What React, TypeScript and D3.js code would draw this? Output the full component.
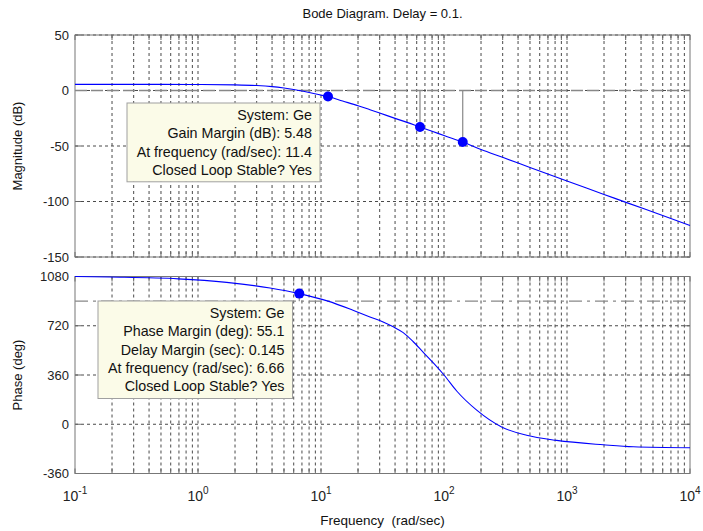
import React from "react";
import * as d3 from "d3";

const magFreq = [0.1, 0.5, 1, 2, 3, 4, 5, 6.66, 8, 10, 11.4, 15, 20, 25, 30, 40, 50, 63.8, 80, 100, 142, 200, 303, 500, 1000, 2000, 3055, 5000, 7550, 10000];
const magDb = [5.5, 5.5, 5.4, 5.1, 4.5, 3.5, 2.2, 0, -1.8, -4.2, -5.48, -9.5, -13.7, -17.3, -20.3, -25.1, -28.7, -32.9, -36.7, -40.6, -46.4, -53.2, -60.4, -69.4, -81.6, -93.6, -101, -109.5, -116.6, -121.6];

const phFreq = [0.1, 0.19, 0.69, 1.71, 3.85, 6.66, 11.4, 18, 25, 32, 38.7, 46.6, 56, 67.9, 81.9, 100, 126.8, 184.5, 294, 470, 824, 1972, 3460, 10000];
const phDeg = [1080, 1076, 1063, 1037, 996, 955, 900, 835, 784, 748, 712, 670, 605, 525, 448, 360, 243, 103, -20, -81, -118, -150, -165, -172];

const gmFreq = [11.4, 63.8, 142];
const gmDb = [-5.48, -32.9, -46.4];
const pmFreq = [6.66];
const pmDeg = [955];

const magTicks = [50, 0, -50, -100, -150];
const phTicks = [1080, 720, 360, 0, -360];
const decadeExps = [-1, 0, 1, 2, 3, 4];

const titleText = "Bode Diagram. Delay = 0.1.";
const gainBox = ["System: Ge", "Gain Margin (dB): 5.48", "At frequency (rad/sec): 11.4", "Closed Loop Stable? Yes"];
const phaseBox = ["System: Ge", "Phase Margin (deg): 55.1", "Delay Margin (sec): 0.145", "At frequency (rad/sec): 6.66", "Closed Loop Stable? Yes"];

const W = 703, H = 531;
const L = 75, R = 690;
const magTop = 35, magBot = 257;
const phTop = 276.5, phBot = 473.5;
const FONT = "Arial, 'Liberation Sans', sans-serif";
const GRID = "#4a4a4a";

export default function App() {
  const x = d3.scaleLog().domain([0.1, 1e4]).range([L, R]);
  const yM = d3.scaleLinear().domain([-150, 50]).range([magBot, magTop]);
  const yP = d3.scaleLinear().domain([-360, 1080]).range([phBot, phTop]);

  const minors: number[] = [];
  for (let e = -1; e <= 3; e++) for (let k = 2; k <= 9; k++) minors.push(k * Math.pow(10, e));
  const majors = decadeExps.map((e) => Math.pow(10, e));

  const magLine = d3.line<number>().x((_, i) => x(magFreq[i])).y((d) => yM(d)).curve(d3.curveMonotoneX)(magDb) || "";
  const phLine = d3.line<number>().x((_, i) => x(phFreq[i])).y((d) => yP(d)).curve(d3.curveMonotoneX)(phDeg) || "";

  const panel = (top: number, bot: number, ticks: number[], y: (v: number) => number, key: string) => (
    <g key={key}>
      {[...minors, ...majors.slice(1, -1)].map((f, i) => (
        <line key={"v" + i} x1={x(f)} x2={x(f)} y1={top} y2={bot} stroke={GRID} strokeWidth={1} strokeDasharray="3,3" />
      ))}
      {ticks.map((t, i) => (
        <line key={"h" + i} x1={L} x2={R} y1={y(t)} y2={y(t)} stroke={GRID} strokeWidth={1} strokeDasharray="3,3" />
      ))}
      {[...minors, ...majors].map((f, i) => (
        <g key={"t" + i}>
          <line x1={x(f)} x2={x(f)} y1={top} y2={top + 5} stroke="#666" />
          <line x1={x(f)} x2={x(f)} y1={bot} y2={bot - 5} stroke="#666" />
        </g>
      ))}
      {ticks.map((t, i) => (
        <g key={"yt" + i}>
          <line x1={L} x2={L + 6} y1={y(t)} y2={y(t)} stroke="#666" />
          <line x1={R} x2={R - 6} y1={y(t)} y2={y(t)} stroke="#666" />
          <text x={L - 6} y={y(t)} dy="0.35em" textAnchor="end" fontSize={13} fill="#222">{t}</text>
        </g>
      ))}
      <rect x={L} y={top} width={R - L} height={bot - top} fill="none" stroke="#777" strokeWidth={1} />
    </g>
  );

  const box = (lines: string[], bx: number, by: number, bw: number, lh: number, key: string) => (
    <g key={key}>
      <rect x={bx} y={by} width={bw} height={lines.length * lh + 6} fill="#fbfbe8" stroke="#a0a0a0" strokeWidth={1} />
      {lines.map((s, i) => (
        <text key={i} x={bx + bw - 8} y={by + 3 + lh * (i + 0.5)} dy="0.35em" textAnchor="end" fontSize={14.3} fill="#111">{s}</text>
      ))}
    </g>
  );

  return (
    <svg width={W} height={H} style={{ position: "absolute", left: 0, top: 0, background: "#fff" }} fontFamily={FONT}>
      <text x={(L + R) / 2} y={18} textAnchor="middle" fontSize={13} fill="#111">{titleText}</text>

      {panel(magTop, magBot, magTicks, yM, "mag")}
      {panel(phTop, phBot, phTicks, yP, "ph")}

      <line x1={L} x2={R} y1={yM(0)} y2={yM(0)} stroke="#888" strokeWidth={1.3} strokeDasharray="12,4" />
      <line x1={L} x2={R} y1={yP(900)} y2={yP(900)} stroke="#888" strokeWidth={1.3} strokeDasharray="13,5,3,5" />

      {gmFreq.map((f, i) => (
        <line key={"gs" + i} x1={x(f)} x2={x(f)} y1={yM(0)} y2={yM(gmDb[i])} stroke="#888" strokeWidth={1.2} />
      ))}
      {pmFreq.map((f, i) => (
        <line key={"ps" + i} x1={x(f)} x2={x(f)} y1={yP(900)} y2={yP(pmDeg[i])} stroke="#888" strokeWidth={1.2} />
      ))}

      <path d={magLine} fill="none" stroke="#0000ff" strokeWidth={1.1} />
      <path d={phLine} fill="none" stroke="#0000ff" strokeWidth={1.1} />

      {gmFreq.map((f, i) => (
        <circle key={"gm" + i} cx={x(f)} cy={yM(gmDb[i])} r={5} fill="#0000ff" />
      ))}
      {pmFreq.map((f, i) => (
        <circle key={"pm" + i} cx={x(f)} cy={yP(pmDeg[i])} r={5} fill="#0000ff" />
      ))}

      {box(gainBox, 127, 103, 193, 18.2, "gb")}
      {box(phaseBox, 98, 301, 194.5, 18.3, "pb")}

      {decadeExps.map((e, i) => (
        <text key={"xl" + i} x={x(Math.pow(10, e))} y={501} textAnchor="middle" fontSize={14} fill="#222">
          10<tspan dy={-7} fontSize={10}>{e}</tspan>
        </text>
      ))}
      <text x={(L + R) / 2} y={525} textAnchor="middle" fontSize={13.5} fill="#111" style={{ whiteSpace: "pre" }}>Frequency  (rad/sec)</text>
      <text transform={`translate(22,${(magTop + magBot) / 2}) rotate(-90)`} textAnchor="middle" fontSize={13} fill="#111">Magnitude (dB)</text>
      <text transform={`translate(22,${(phTop + phBot) / 2}) rotate(-90)`} textAnchor="middle" fontSize={13} fill="#111">Phase (deg)</text>
    </svg>
  );
}
